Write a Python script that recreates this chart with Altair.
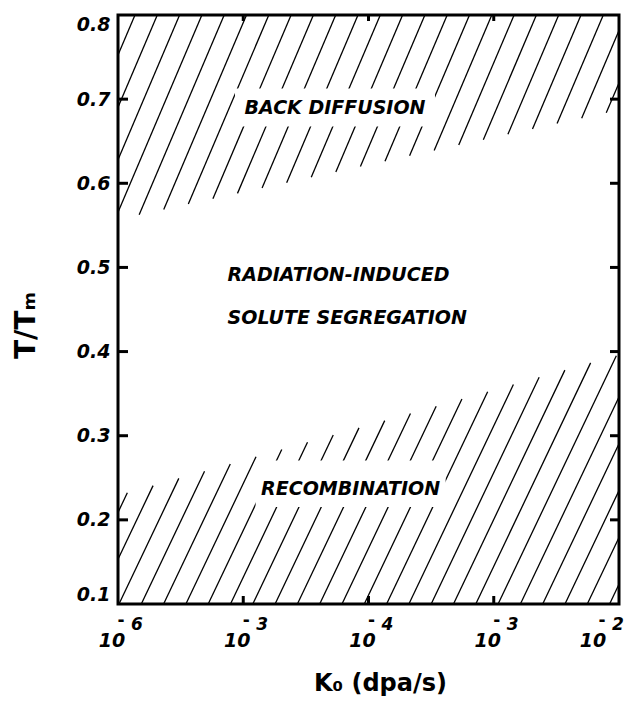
import altair as alt
import numpy as np
import pandas as pd

# ---------------- data ----------------
k_ticks = [1e-6, 1e-5, 1e-4, 1e-3, 1e-2]
k_exp = ["6", "3", "4", "3", "2"]          # exponents as printed
t_ticks = [0.1, 0.2, 0.3, 0.4, 0.5, 0.6, 0.7, 0.8]
inner_t = [0.2, 0.3, 0.4, 0.5, 0.6, 0.7]
inner_k = [1e-5, 1e-4, 1e-3]

edge_K = [1e-6, 1e-2]
upper_T = [0.557, 0.687]   # lower edge of the back-diffusion band
lower_T = [0.229, 0.396]   # upper edge of the recombination band

labels = ["BACK DIFFUSION", "RADIATION-INDUCED", "SOLUTE SEGREGATION", "RECOMBINATION"]
label_K = [5.4e-5, 7.5e-6, 7.5e-6, 7.2e-5]
label_T = [0.690, 0.491, 0.440, 0.237]
label_align = ["center", "left", "left", "center"]

# ---------------- layout ----------------
W, H = 501, 589
LOG0, LOG1 = -6.0, -2.0
T0, T1 = 0.1, 0.8
FONT = "DejaVu Sans"


def to_px_y(T):
    return (T - T0) / (T1 - T0) * H


def from_px(x, y):
    return 10 ** (LOG0 + x / W * (LOG1 - LOG0)), T0 + y / H * (T1 - T0)


def hatch(lo, hi, y_ref, slope, spacing, phase):
    """lo/hi: (y at x=0, y at x=W) in px (y up). Lines y = y_ref + slope*(x-c)."""
    rows = []
    mlo = (lo[1] - lo[0]) / W
    mhi = (hi[1] - hi[0]) / W
    for k in range(-80, 80):
        c = phase + k * spacing
        a = y_ref - slope * c
        xs = max(0.0, (lo[0] - a) / (slope - mlo))
        xe = min(float(W), (hi[0] - a) / (slope - mhi))
        if xe - xs > 0.5:
            k0, t0 = from_px(xs, a + slope * xs)
            k1, t1 = from_px(xe, a + slope * xe)
            rows.append({"K0": k0, "T0": t0, "K1": k1, "T1": t1})
    return rows


lb = (to_px_y(lower_T[0]), to_px_y(lower_T[1]))
ub = (to_px_y(upper_T[0]), to_px_y(upper_T[1]))
rows = hatch((0.0, 0.0), lb, 0.0, 2.1, 22.3, 1.0)
rows += hatch(ub, (float(H), float(H)), float(H), 2.35, 22.3, 17.0)
hatch_df = pd.DataFrame(rows)

tick_df = pd.DataFrame({"K": k_ticks, "exp": k_exp, "base": ["10"] * len(k_ticks)})
ik_df = pd.DataFrame({"K": inner_k})
it_df = pd.DataFrame({"T": inner_t})
lab_df = pd.DataFrame({"label": labels, "K": label_K, "T": label_T, "align": label_align})

xscale = alt.Scale(type="log", domain=[1e-6, 1e-2], nice=False)
yscale = alt.Scale(domain=[0.1, 0.8], nice=False, zero=False)

x_axis = alt.Axis(
    title="K₀ (dpa/s)", labels=False, ticks=False, domain=False, grid=False,
    titleFont=FONT, titleFontSize=24, titleFontWeight="bold", titleColor="black",
    titleX=262, titleY=79, titleAlign="center", titleBaseline="middle",
)
y_axis = alt.Axis(
    title="T/Tₘ", values=t_ticks, format=".1f", ticks=False, tickSize=0, domain=False,
    grid=False, labelFlush=True, labelPadding=8, labelFont=FONT, labelFontSize=19,
    labelFontWeight="bold", labelFontStyle="italic", labelColor="black",
    titleFont=FONT, titleFontSize=28, titleFontWeight="bold", titleColor="black",
    titleAngle=270, titleX=-92, titleY=310, titleAlign="center", titleBaseline="middle",
)

hatch_layer = alt.Chart(hatch_df).mark_rule(color="black", strokeWidth=1.3).encode(
    x=alt.X("K0:Q", scale=xscale, axis=x_axis),
    x2="K1:Q",
    y=alt.Y("T0:Q", scale=yscale, axis=y_axis),
    y2="T1:Q",
)

gap_back = alt.Chart(lab_df).transform_filter(alt.datum.label == "BACK DIFFUSION").mark_point(
    shape="M-1,-0.19H1V0.19H-1Z", size=200 * 200, filled=True, fill="white",
    stroke=None, opacity=1,
).encode(x=alt.X("K:Q", scale=xscale), y=alt.Y("T:Q", scale=yscale))

gap_rec = alt.Chart(lab_df).transform_filter(alt.datum.label == "RECOMBINATION").mark_point(
    shape="M-1,-0.245H1V0.245H-1Z", size=190 * 190, filled=True, fill="white",
    stroke=None, opacity=1, yOffset=-5,
).encode(x=alt.X("K:Q", scale=xscale), y=alt.Y("T:Q", scale=yscale))

text_kw = dict(font=FONT, fontSize=19, fontWeight="bold", fontStyle="italic",
               color="black", baseline="middle")
lab_center = alt.Chart(lab_df).transform_filter(alt.datum.align == "center").mark_text(
    align="center", **text_kw
).encode(x=alt.X("K:Q", scale=xscale), y=alt.Y("T:Q", scale=yscale), text="label:N")
lab_left = alt.Chart(lab_df).transform_filter(alt.datum.align == "left").mark_text(
    align="left", **text_kw
).encode(x=alt.X("K:Q", scale=xscale), y=alt.Y("T:Q", scale=yscale), text="label:N")


# x tick labels: "10" with raised exponent
def power_label(flt, shift):
    src = alt.Chart(tick_df).transform_filter(flt)
    base10 = src.mark_text(
        font=FONT, fontSize=19, fontWeight="bold", fontStyle="italic", color="black",
        align="center", baseline="middle", dx=shift,
    ).encode(x=alt.X("K:Q", scale=xscale), y=alt.value(H + 37), text="base:N")
    minus = src.mark_text(
        font=FONT, fontSize=17, fontWeight="bold", color="black",
        align="center", baseline="middle", dx=shift + 9,
    ).encode(x=alt.X("K:Q", scale=xscale), y=alt.value(H + 17), text=alt.value("-"))
    expo = src.mark_text(
        font=FONT, fontSize=17, fontWeight="bold", fontStyle="italic", color="black",
        align="center", baseline="middle", dx=shift + 25,
    ).encode(x=alt.X("K:Q", scale=xscale), y=alt.value(H + 21), text="exp:N")
    return [base10, minus, expo]


inner_labels = power_label(alt.datum.K < 0.005, -6)
last_label = power_label(alt.datum.K > 0.005, -26)

# inward ticks on all four sides
tick_style = dict(color="black", strokeWidth=3)
left_ticks = alt.Chart(it_df).mark_rule(**tick_style).encode(
    y=alt.Y("T:Q", scale=yscale), x=alt.value(0), x2=alt.value(10))
right_ticks = alt.Chart(it_df).mark_rule(**tick_style).encode(
    y=alt.Y("T:Q", scale=yscale), x=alt.value(W - 9), x2=alt.value(W))
bottom_ticks = alt.Chart(ik_df).mark_rule(**tick_style).encode(
    x=alt.X("K:Q", scale=xscale), y=alt.value(H - 8), y2=alt.value(H))
top_ticks = alt.Chart(ik_df).mark_rule(**tick_style).encode(
    x=alt.X("K:Q", scale=xscale), y=alt.value(0), y2=alt.value(6))

chart = alt.layer(
    hatch_layer, gap_back, gap_rec, lab_center, lab_left,
    *inner_labels, *last_label,
    left_ticks, right_ticks, bottom_ticks, top_ticks,
).properties(
    width=W, height=H,
    padding={"left": 110, "top": 7, "right": 5, "bottom": 92},
    autosize=alt.AutoSizeParams(type="none"),
    background="white",
).configure_view(stroke="black", strokeWidth=3)

chart.save("out.html", embed_options={"renderer": "svg", "actions": False})
